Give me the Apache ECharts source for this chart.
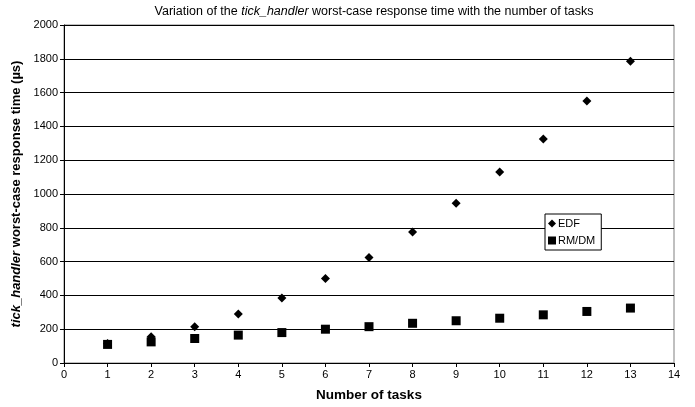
<!DOCTYPE html>
<html><head><meta charset="utf-8">
<script src="https://cdn.jsdelivr.net/npm/echarts@6/dist/echarts.min.js"></script>
<style>html,body{margin:0;padding:0;background:#fff}#c{width:695px;height:407px}</style>
</head><body><div id="c"></div>
<script>
const tasks = [1,2,3,4,5,6,7,8,9,10,11,12,13];
const edf = [115,155,215,290,385,500,625,775,945,1130,1325,1550,1785];
const rmdm = [110,125,145,165,180,200,215,235,250,265,285,305,325];
const seriesNames = ['EDF','RM/DM'];

const chart = echarts.init(document.getElementById('c'));
const font = 'Liberation Sans, Arial, sans-serif';
chart.setOption({
  animation:false,
  backgroundColor:'#fff',
  title:{
    text:'Variation of the {i|tick_handler} worst-case response time with the number of tasks',
    left:369, textAlign:'center', top:0,
    textStyle:{fontFamily:font,fontSize:12.5,fontWeight:'normal',color:'#000',
      rich:{i:{fontFamily:font,fontSize:12.5,fontStyle:'italic',color:'#000'}}}
  },
  legend:{
    orient:'vertical', left:545, top:214, data:seriesNames,
    backgroundColor:'#fff', borderColor:'#000', borderWidth:1,
    padding:[4,6,4,3], itemGap:6, itemWidth:8, itemHeight:8,
    textStyle:{fontFamily:font,fontSize:11,color:'#000',padding:[0,0,0,-3]}
  },
  grid:{left:64,right:21,top:25,bottom:43,show:true,borderColor:'#808080',borderWidth:1},
  xAxis:{
    type:'value',min:0,max:14,interval:1,
    name:'Number of tasks',nameLocation:'middle',nameGap:25,
    nameTextStyle:{fontFamily:font,fontSize:13.5,fontWeight:'bold',color:'#000'},
    axisLine:{lineStyle:{color:'#000',width:1}},
    axisTick:{show:true,length:4,lineStyle:{color:'#000'}},
    axisLabel:{fontFamily:font,fontSize:11,color:'#000',margin:6},
    splitLine:{show:false}
  },
  yAxis:{
    type:'value',min:0,max:2000,interval:200,
    name:'{i|tick_handler} worst-case response time (µs)',nameLocation:'middle',nameGap:32,
    nameTextStyle:{fontFamily:font,fontSize:13,fontWeight:'bold',color:'#000',
      rich:{i:{fontFamily:font,fontSize:13,fontWeight:'bold',fontStyle:'italic',color:'#000'}}},
    axisLine:{show:true,lineStyle:{color:'#000',width:1}},
    axisTick:{show:true,length:4,lineStyle:{color:'#000'}},
    axisLabel:{fontFamily:font,fontSize:11,color:'#000',margin:6,formatter:v=>String(v)},
    splitLine:{show:true,lineStyle:{color:'#000',width:1}}
  },
  series:[
    {name:seriesNames[0],type:'scatter',symbol:'diamond',symbolSize:9,
     itemStyle:{color:'#000',opacity:1},data:tasks.map((t,i)=>[t,edf[i]]),z:3},
    {name:seriesNames[1],type:'scatter',symbol:'rect',symbolSize:9,
     itemStyle:{color:'#000',opacity:1},data:tasks.map((t,i)=>[t,rmdm[i]]),z:2}
  ]
});
</script></body></html>
